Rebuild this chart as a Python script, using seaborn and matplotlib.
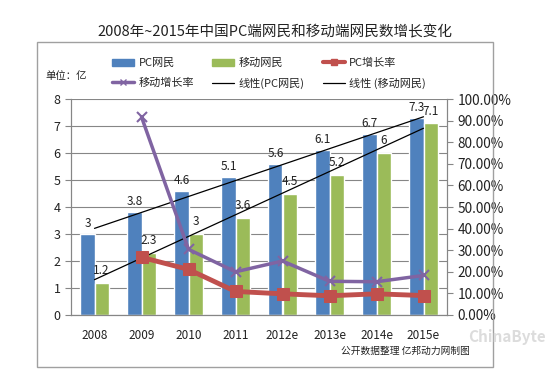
import numpy as np
import pandas as pd
import matplotlib
matplotlib.use('Agg')
import matplotlib.pyplot as plt
import seaborn as sns
from matplotlib.patches import Patch, Rectangle
from matplotlib.lines import Line2D

# data (unit: 亿 people, growth in %)
years = ['2008', '2009', '2010', '2011', '2012e', '2013e', '2014e', '2015e']
pc_users = [3, 3.8, 4.6, 5.1, 5.6, 6.1, 6.7, 7.3]
mobile_users = [1.2, 2.3, 3, 3.6, 4.5, 5.2, 6, 7.1]
pc_growth = [26.7, 21.1, 10.9, 9.8, 8.9, 9.8, 9.0]        # from 2009
mobile_growth = [91.7, 30.4, 20.0, 25.0, 15.6, 15.4, 18.3]  # from 2009

BLUE = '#4F81BD'
GREEN = '#9BBB59'
RED = '#C0504D'
PURPLE = '#8064A2'
GRAY = '#868686'

sns.set_style('white')
plt.rcParams['font.family'] = ['Noto Sans CJK SC', 'DejaVu Sans']

df = pd.DataFrame({'year': years * 2,
                   'users': pc_users + mobile_users,
                   'kind': ['PC网民'] * len(years) + ['移动网民'] * len(years)})

fig = plt.figure(figsize=(5.5, 3.77), dpi=100)
ax = fig.add_axes([71/550, 1-315/377, 376/550, 216/377])

sns.barplot(data=df, x='year', y='users', hue='kind', palette=[BLUE, GREEN],
            width=0.6, gap=0, saturation=1, ax=ax, legend=False, zorder=2)
for i, cont in enumerate(ax.containers):
    texts = ax.bar_label(cont, labels=[f'{v:g}' for v in cont.datavalues],
                         padding=3 if i == 0 else 4, fontsize=8.5, color='#222222')
    # last pair of labels sits very close together, nudge them apart a little
    texts[-1].set_x(texts[-1].get_position()[0] + (-0.08 if i == 0 else 0.08))

# linear trendlines (Excel style)
pos = np.arange(len(years))
pc_fit = np.polyfit(pos, pc_users, 1)
mob_fit = np.polyfit(pos, mobile_users, 1)
ends = np.array([pos[0], pos[-1]])
ax.plot(ends, np.polyval(pc_fit, ends), color='black', lw=0.9, zorder=3)
ax.plot(ends, np.polyval(mob_fit, ends), color='black', lw=0.9, zorder=3)

ax.set_xlim(-0.5, 7.5)
ax.set_ylim(0, 8)
ax.set_yticks(range(0, 9))
ax.yaxis.grid(True, color=GRAY, lw=0.8)
ax.set_axisbelow(True)
ax.set_xlabel('')
ax.set_ylabel('')
ax.set_xticks(pos)
ax.set_xticklabels(years)
ax.set_xticks(np.arange(-0.5, 8, 1), minor=True)
ax.tick_params(axis='x', which='major', length=0, pad=10, labelsize=8.5, labelcolor='#222222')
ax.tick_params(axis='x', which='minor', length=4, color=GRAY, direction='out')
ax.tick_params(axis='y', length=4, color=GRAY, direction='out', labelsize=9,
               labelcolor='#222222', left=True)
for s in ['left', 'bottom', 'right']:
    ax.spines[s].set_color(GRAY)
ax.spines['top'].set_visible(False)

# growth rates on the right axis
ax2 = ax.twinx()
gr = pd.DataFrame({'pos': pos[1:], 'pc': pc_growth, 'mob': mobile_growth})
sns.lineplot(data=gr, x='pos', y='mob', color=PURPLE, lw=2.5, marker='x',
             markersize=7, markeredgewidth=1.5, markeredgecolor=PURPLE, ax=ax2)
sns.lineplot(data=gr, x='pos', y='pc', color=RED, lw=3.5, marker='s',
             markersize=8, markeredgecolor=RED, ax=ax2)
ax2.set_ylim(0, 100)
ax2.set_yticks(range(0, 101, 10))
ax2.set_yticklabels([f'{v}.00%' for v in range(0, 101, 10)])
ax2.set_xlim(-0.5, 7.5)
ax2.set_xlabel('')
ax2.set_ylabel('')
ax2.tick_params(axis='y', length=4, color=GRAY, direction='out', labelsize=9.8,
                labelcolor='#222222', right=True)
for s in ['left', 'bottom', 'right']:
    ax2.spines[s].set_color(GRAY)
ax2.spines['top'].set_visible(False)

# legend (Excel-like, two rows)
h_pc = Patch(color=BLUE)
h_mob = Patch(color=GREEN)
h_pcg = Line2D([], [], color=RED, lw=3, marker='s', markersize=5)
h_mobg = Line2D([], [], color=PURPLE, lw=2.5, marker='x', markersize=5)
h_t1 = Line2D([], [], color='black', lw=0.9)
h_t2 = Line2D([], [], color='black', lw=0.9)
handles = [h_pc, h_mobg, h_mob, h_t1, h_pcg, h_t2]
labels = ['PC网民', '移动增长率', '移动网民', '线性(PC网民)', 'PC增长率', '线性 (移动网民)']
fig.legend(handles, labels, ncol=3, loc='upper left', bbox_to_anchor=(102/550, 1-48/377),
           frameon=False, fontsize=8, handlelength=2.0, handleheight=0.6,
           columnspacing=1.6, labelspacing=0.85, handletextpad=0.4)

fig.text(0.5, 1-32/377, '2008年~2015年中国PC端网民和移动端网民数增长变化',
         ha='center', va='center', fontsize=10.5, color='#222222')
fig.text(45/550, 1-76/377, '单位：亿', ha='left', va='center', fontsize=7.5, color='#222222')
fig.text(405/550, 1-351/377, '公开数据整理 亿邦动力网制图', ha='center', va='center',
         fontsize=7, color='#222222')
fig.text(546/550, 1-337/377, 'ChinaByte', ha='right', va='center', fontsize=11,
         color='#dcdcdc', fontweight='bold')

fig.patches.append(Rectangle((37/550, 1-367/377), 456/550, 325/377, transform=fig.transFigure,
                             fill=False, edgecolor='#a0a0a0', lw=1))

fig.savefig('out.png', dpi=100, facecolor='white')
